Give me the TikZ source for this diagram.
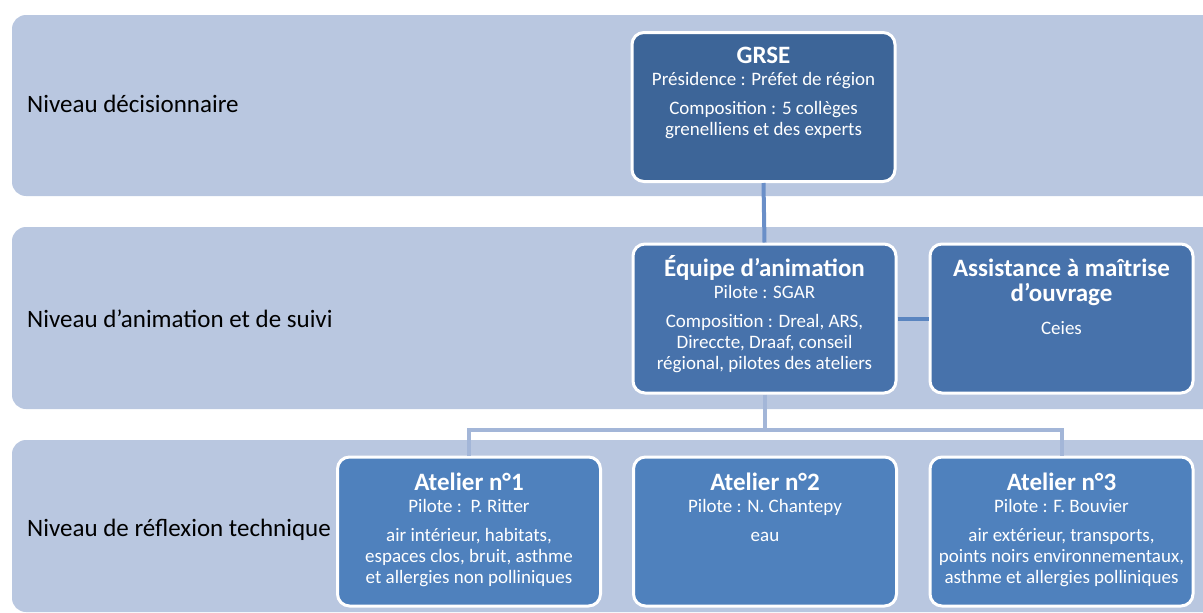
\documentclass[tikz,border=0pt]{standalone}
\usepackage{fontspec}
\setmainfont{Carlito}
\usepackage{tikz}
\usetikzlibrary{positioning}

\definecolor{bandblue}{HTML}{B9C7E0}
\definecolor{topblue}{HTML}{3D6598}
\definecolor{midblue}{HTML}{4772AB}
\definecolor{lowblue}{HTML}{4F81BD}
\definecolor{linkdark}{HTML}{5A85C0}
\definecolor{linkmid}{HTML}{6A8FC8}
\definecolor{linklight}{HTML}{A3B6D8}

\newcommand{\unittitle}{\bfseries\fontsize{25}{25}\selectfont\rule{0pt}{19pt}}

\begin{document}
\begin{tikzpicture}[x=1pt,y=-1pt]
  \tikzstyle{band}=[fill=bandblue,rounded corners=14pt]
  \tikzstyle{levelname}=[anchor=west,inner sep=0pt,font=\fontsize{25}{28}\selectfont]
  \tikzstyle{unit}=[draw=white,line width=3pt,rounded corners=12pt,minimum width=263pt,minimum height=149pt,inner sep=0pt]
  \tikzstyle{unittext}=[anchor=north,align=center,inner sep=0pt,text=white,font=\fontsize{19}{21}\selectfont]
  \tikzstyle{link}=[line width=4pt]
  \clip (0,0) rectangle (1203,613);
  \useasboundingbox (0,0) rectangle (1203,613);
  % levels
  \fill[band] (12,15) rectangle (1230,196);
  \fill[band] (12,227) rectangle (1230,409);
  \fill[band] (12,440) rectangle (1230,612);
  \node[levelname] (lvl1) at (27,104) {Niveau décisionnaire};
  \node[levelname] (lvl2) at (27,319) {Niveau d’animation et de suivi};
  \node[levelname] (lvl3) at (27,530) {Niveau de réflexion technique};
  % units
  \node[unit,fill=topblue] (grse) at (763.5,107) {};
  \node[unit,fill=midblue] (equipe) at (764.5,318.5) {};
  \node[unit,fill=midblue] (amo) at (1061.5,318.5) {};
  \node[unit,fill=lowblue] (at1) at (469,531.5) {};
  \node[unit,fill=lowblue] (at2) at (765,531.5) {};
  \node[unit,fill=lowblue] (at3) at (1061.5,531.5) {};
  % connectors
  \draw[link,linkmid] (grse.south) -- (equipe.north);
  \draw[link,linkdark] (equipe.east) -- (amo.west);
  \draw[link,linklight] (equipe.south) -- ++(0,35) coordinate (bus);
  \draw[link,linklight] (at1.north) |- (bus) -| (at3.north);
  % texts
  \node[unittext] (grse-t) at ([yshift=-13pt]grse.north)
    {{\unittitle GRSE}\\[1pt] Présidence : Préfet de région\\[8pt]
     Composition : 5 collèges\\ grenelliens et des experts};
  \node[unittext] (equipe-t) at ([yshift=-13pt]equipe.north)
    {{\unittitle Équipe d’animation}\\[1pt] Pilote : SGAR\\[8pt]
     Composition : Dreal, ARS,\\ Direccte, Draaf, conseil\\ régional, pilotes des ateliers};
  \node[unittext] (amo-t) at ([yshift=-14.5pt]amo.north)
    {{\unittitle Assistance à maîtrise}\\[4pt] {\unittitle d’ouvrage}\\[12pt] Ceies};
  \node[unittext] (at1-t) at ([yshift=-16pt]at1.north)
    {{\unittitle Atelier n°1}\\[1pt] Pilote :\ \ P. Ritter\\[8pt]
     air intérieur, habitats,\\ espaces clos, bruit, asthme\\ et allergies non polliniques};
  \node[unittext] (at2-t) at ([yshift=-16pt]at2.north)
    {{\unittitle Atelier n°2}\\[1pt] Pilote : N. Chantepy\\[8pt] eau};
  \node[unittext] (at3-t) at ([yshift=-16pt]at3.north)
    {{\unittitle Atelier n°3}\\[1pt] Pilote : F. Bouvier\\[8pt]
     air extérieur, transports,\\ points noirs environnementaux,\\ asthme et allergies polliniques};
\end{tikzpicture}
\end{document}
